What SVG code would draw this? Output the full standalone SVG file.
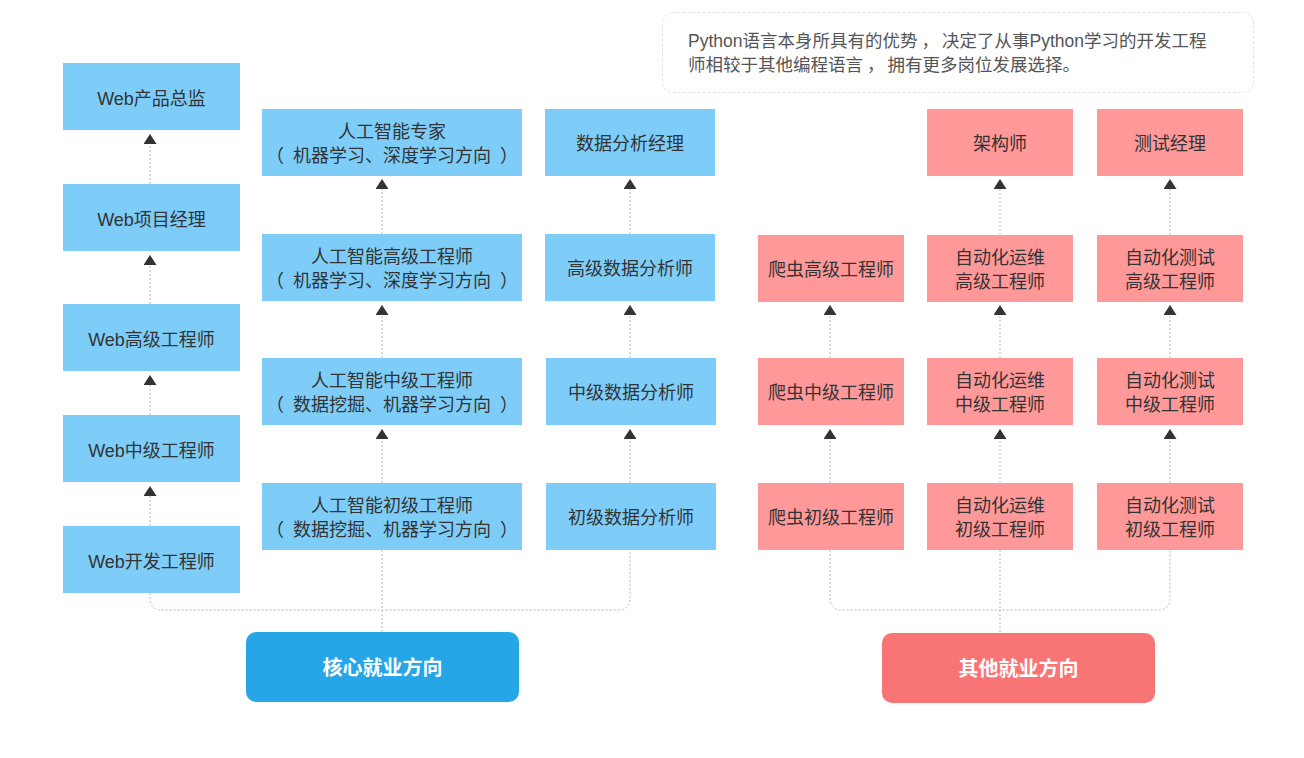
<svg xmlns="http://www.w3.org/2000/svg" width="1304" height="758" viewBox="0 0 1304 758">
<defs>
<style>
.b{fill:#7DCDF8}
.p{fill:#FF9999}
.t{font-family:"Liberation Sans","Noto Sans CJK SC",sans-serif;font-size:18px;fill:#333;text-anchor:middle}
.h{font-family:"Liberation Sans","Noto Sans CJK SC",sans-serif;font-size:17.5px;fill:#555}
.bt{font-family:"Liberation Sans","Noto Sans CJK SC",sans-serif;font-size:20px;font-weight:bold;fill:#fff;text-anchor:middle}
.c{fill:none;stroke:#bbb;stroke-width:1;stroke-dasharray:2 2}
.a{fill:none;stroke:#bbb;stroke-width:1;stroke-dasharray:2 2;marker-end:url(#arr)}
</style>
<marker id="arr" viewBox="0 0 10 13" refX="10" refY="6.5" markerWidth="10" markerHeight="13" markerUnits="userSpaceOnUse" orient="auto">
<path d="M0,0 L10,6.5 L0,13 z" fill="#333"/>
</marker>
</defs>
<rect width="1304" height="758" fill="#fff"/>

<g id="note">
<rect x="662.5" y="12.5" width="591" height="80" rx="10" fill="#fff" stroke="#e3e3e3" stroke-dasharray="3 2"/>
<text class="h" x="688" y="47">Python语言本身所具有的优势<tspan dx="4">，</tspan><tspan dx="3">决定了从事Python学习的开发工程</tspan></text>
<text class="h" x="688" y="71">师相较于其他编程语言<tspan dx="4">，</tspan><tspan dx="3">拥有更多岗位发展选择。</tspan></text>
</g>

<g id="connectors">
<line class="a" x1="150" y1="184" x2="150" y2="134"/>
<line class="a" x1="150" y1="304" x2="150" y2="255"/>
<line class="a" x1="150" y1="415" x2="150" y2="375"/>
<line class="a" x1="150" y1="526" x2="150" y2="486"/>
<line class="a" x1="382" y1="234" x2="382" y2="179"/>
<line class="a" x1="382" y1="358" x2="382" y2="305"/>
<line class="a" x1="382" y1="483" x2="382" y2="429"/>
<line class="a" x1="630" y1="234" x2="630" y2="179"/>
<line class="a" x1="630" y1="358" x2="630" y2="305"/>
<line class="a" x1="630" y1="483" x2="630" y2="429"/>
<line class="a" x1="830" y1="358" x2="830" y2="305"/>
<line class="a" x1="830" y1="483" x2="830" y2="429"/>
<line class="a" x1="1000" y1="235" x2="1000" y2="179"/>
<line class="a" x1="1000" y1="358" x2="1000" y2="305"/>
<line class="a" x1="1000" y1="483" x2="1000" y2="429"/>
<line class="a" x1="1170" y1="235" x2="1170" y2="179"/>
<line class="a" x1="1170" y1="358" x2="1170" y2="305"/>
<line class="a" x1="1170" y1="483" x2="1170" y2="429"/>
<path class="c" d="M150,593 V598 Q150,610 162,610 H618 Q630,610 630,598 V550"/>
<line class="c" x1="382" y1="550" x2="382" y2="632"/>
<path class="c" d="M830,550 V598 Q830,610 842,610 H1158 Q1170,610 1170,598 V550"/>
<line class="c" x1="1000" y1="550" x2="1000" y2="633"/>
</g>

<g id="web-director"><rect class="b" x="63" y="63" width="177" height="67"/><text class="t" x="151.5" y="104.5">Web产品总监</text></g>
<g id="web-pm"><rect class="b" x="63" y="184" width="177" height="67"/><text class="t" x="151.5" y="225.5">Web项目经理</text></g>
<g id="web-senior"><rect class="b" x="63" y="304" width="177" height="67"/><text class="t" x="151.5" y="345.5">Web高级工程师</text></g>
<g id="web-mid"><rect class="b" x="63" y="415" width="177" height="67"/><text class="t" x="151.5" y="456.5">Web中级工程师</text></g>
<g id="web-dev"><rect class="b" x="63" y="526" width="177" height="67"/><text class="t" x="151.5" y="567.5">Web开发工程师</text></g>

<g id="ai-expert"><rect class="b" x="262" y="109" width="260" height="67"/><text class="t" x="392" y="138">人工智能专家</text><text class="t" x="392" y="162">（<tspan dx="9">机器学习、深度学习方向</tspan><tspan dx="9">）</tspan></text></g>
<g id="ai-senior"><rect class="b" x="262" y="234" width="260" height="67"/><text class="t" x="392" y="263">人工智能高级工程师</text><text class="t" x="392" y="287">（<tspan dx="9">机器学习、深度学习方向</tspan><tspan dx="9">）</tspan></text></g>
<g id="ai-mid"><rect class="b" x="262" y="358" width="260" height="67"/><text class="t" x="392" y="387">人工智能中级工程师</text><text class="t" x="392" y="411">（<tspan dx="9">数据挖掘、机器学习方向</tspan><tspan dx="9">）</tspan></text></g>
<g id="ai-junior"><rect class="b" x="262" y="483" width="260" height="67"/><text class="t" x="392" y="512">人工智能初级工程师</text><text class="t" x="392" y="536">（<tspan dx="9">数据挖掘、机器学习方向</tspan><tspan dx="9">）</tspan></text></g>

<g id="data-manager"><rect class="b" x="545" y="109" width="170" height="67"/><text class="t" x="630" y="150">数据分析经理</text></g>
<g id="data-senior"><rect class="b" x="545" y="234" width="170" height="67"/><text class="t" x="630" y="275">高级数据分析师</text></g>
<g id="data-mid"><rect class="b" x="546" y="358" width="170" height="67"/><text class="t" x="631" y="399">中级数据分析师</text></g>
<g id="data-junior"><rect class="b" x="546" y="483" width="170" height="67"/><text class="t" x="631" y="524">初级数据分析师</text></g>

<g id="crawler-senior"><rect class="p" x="758" y="235" width="146" height="67"/><text class="t" x="831" y="276">爬虫高级工程师</text></g>
<g id="crawler-mid"><rect class="p" x="758" y="358" width="146" height="67"/><text class="t" x="831" y="399">爬虫中级工程师</text></g>
<g id="crawler-junior"><rect class="p" x="758" y="483" width="146" height="67"/><text class="t" x="831" y="524">爬虫初级工程师</text></g>

<g id="architect"><rect class="p" x="927" y="109" width="146" height="67"/><text class="t" x="1000" y="150">架构师</text></g>
<g id="ops-senior"><rect class="p" x="927" y="235" width="146" height="67"/><text class="t" x="1000" y="264">自动化运维</text><text class="t" x="1000" y="288">高级工程师</text></g>
<g id="ops-mid"><rect class="p" x="927" y="358" width="146" height="67"/><text class="t" x="1000" y="387">自动化运维</text><text class="t" x="1000" y="411">中级工程师</text></g>
<g id="ops-junior"><rect class="p" x="927" y="483" width="146" height="67"/><text class="t" x="1000" y="512">自动化运维</text><text class="t" x="1000" y="536">初级工程师</text></g>

<g id="test-manager"><rect class="p" x="1097" y="109" width="146" height="67"/><text class="t" x="1170" y="150">测试经理</text></g>
<g id="test-senior"><rect class="p" x="1097" y="235" width="146" height="67"/><text class="t" x="1170" y="264">自动化测试</text><text class="t" x="1170" y="288">高级工程师</text></g>
<g id="test-mid"><rect class="p" x="1097" y="358" width="146" height="67"/><text class="t" x="1170" y="387">自动化测试</text><text class="t" x="1170" y="411">中级工程师</text></g>
<g id="test-junior"><rect class="p" x="1097" y="483" width="146" height="67"/><text class="t" x="1170" y="512">自动化测试</text><text class="t" x="1170" y="536">初级工程师</text></g>

<g id="core"><rect x="246" y="632" width="273" height="70" rx="10" fill="#27A6E7"/><text class="bt" x="382.5" y="675">核心就业方向</text></g>
<g id="other"><rect x="882" y="633" width="273" height="70" rx="10" fill="#F97474"/><text class="bt" x="1018.5" y="676">其他就业方向</text></g>
</svg>
